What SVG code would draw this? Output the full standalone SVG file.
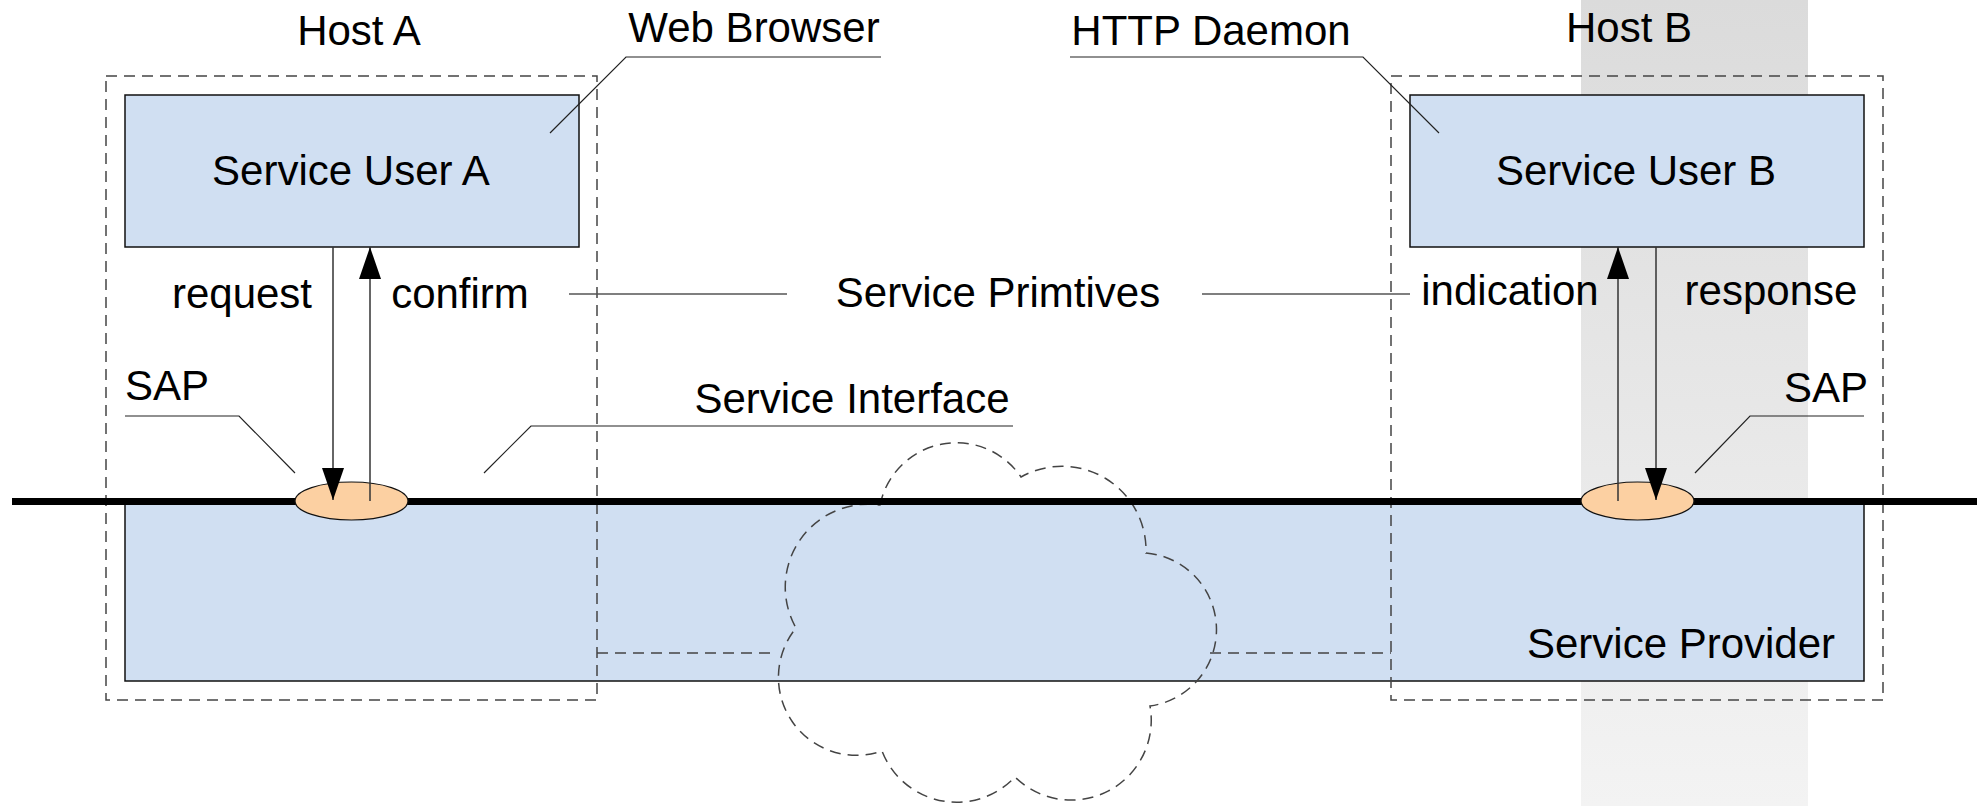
<svg xmlns="http://www.w3.org/2000/svg" width="1982" height="806" viewBox="0 0 1982 806">
<defs>
<linearGradient id="band" x1="0" y1="0" x2="0" y2="1">
<stop offset="0" stop-color="#dbdbdb"/>
<stop offset="1" stop-color="#f3f3f3"/>
</linearGradient>
<marker id="arr" markerUnits="userSpaceOnUse" markerWidth="32" markerHeight="22" refX="32" refY="11" orient="auto" viewBox="0 0 32 22">
<path d="M0,0 L32,11 L0,22 z" fill="#000"/>
</marker>
</defs>
<style>
text{font-family:"Liberation Sans",Arial,sans-serif;font-size:42px;fill:#000}
.box{fill:#d0dff2;stroke:#111;stroke-width:1.5}
.dash{fill:none;stroke:#444;stroke-width:1.5;stroke-dasharray:11 7}
.lead{fill:none;stroke:#222;stroke-width:1.2}
.prim{fill:none;stroke:#555;stroke-width:1.5}
.arrow{fill:none;stroke:#333;stroke-width:1.5;marker-end:url(#arr)}
.sap{fill:#fcd0a2;stroke:#111;stroke-width:1.2}
.mid{text-anchor:middle}
</style>
<rect x="1581" y="0" width="227" height="806" fill="url(#band)"/>

<g id="hostB-label"><text x="1629" y="42" class="mid">Host B</text></g>
<g id="hostA-label"><text x="359" y="45" class="mid">Host A</text></g>

<g id="service-provider">
<rect class="box" x="125" y="501" width="1739" height="180"/>
<text x="1681" y="658" class="mid">Service Provider</text>
</g>

<g id="service-user-a">
<rect class="box" x="125" y="95" width="454" height="152"/>
<text x="351" y="185" class="mid">Service User A</text>
</g>
<g id="service-user-b">
<rect class="box" x="1410" y="95" width="454" height="152"/>
<text x="1636" y="185" class="mid">Service User B</text>
</g>

<g id="host-a"><rect class="dash" x="106" y="76" width="491" height="624"/></g>
<g id="host-b"><rect class="dash" x="1391" y="76" width="492" height="624"/></g>

<g id="network-cloud">
<path class="dash" d="M880,505 A78,78 0 0 1 1021,477 A84,84 0 0 1 1146,553 A77,77 0 0 1 1150,706 A80,80 0 0 1 1015,777 A80,80 0 0 1 882,751 A78,78 0 0 1 796,628 A83,83 0 0 1 880,505 Z"/>
<line class="dash" x1="597" y1="653" x2="774" y2="653"/>
<line class="dash" x1="1210" y1="653" x2="1391" y2="653"/>
</g>

<g id="service-interface-line">
<line x1="12" y1="501.5" x2="1977" y2="501.5" stroke="#000" stroke-width="7"/>
</g>

<g id="sap-a"><ellipse class="sap" cx="351.5" cy="501" rx="56.5" ry="19"/></g>
<g id="sap-b"><ellipse class="sap" cx="1637.5" cy="501" rx="56.5" ry="19"/></g>

<g id="connectors">
<line class="arrow" x1="333" y1="247" x2="333" y2="500"/>
<line class="arrow" x1="370" y1="501" x2="370" y2="247"/>
<line class="arrow" x1="1618" y1="501" x2="1618" y2="247"/>
<line class="arrow" x1="1656" y1="247" x2="1656" y2="500"/>
<polyline class="lead" points="550,133 626,57 881,57"/>
<polyline class="lead" points="1070,57 1363,57 1439,133"/>
<polyline class="lead" points="125,416 239,416 295,473"/>
<polyline class="lead" points="1864,416 1750,416 1695,473"/>
<polyline class="lead" points="484,473 531,426 1013,426"/>
<line class="prim" x1="569" y1="294" x2="787" y2="294"/>
<line class="prim" x1="1202" y1="294" x2="1410" y2="294"/>
</g>

<g id="labels">
<text x="754" y="42" class="mid">Web Browser</text>
<text x="1211" y="45" class="mid">HTTP Daemon</text>
<text x="242" y="308" class="mid">request</text>
<text x="460" y="308" class="mid">confirm</text>
<text x="998" y="307" class="mid">Service Primtives</text>
<text x="1510" y="305" class="mid">indication</text>
<text x="1771" y="305" class="mid">response</text>
<text x="125" y="400">SAP</text>
<text x="1868" y="402" text-anchor="end">SAP</text>
<text x="852" y="413" class="mid">Service Interface</text>
</g>
</svg>
